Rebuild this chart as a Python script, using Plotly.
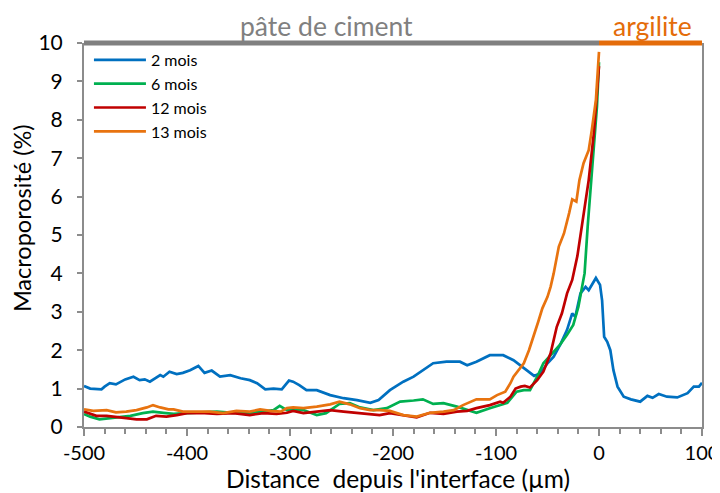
import plotly.graph_objects as go

# 2 mois
x_2m = [-500, -494, -483, -480, -475, -469, -460, -452, -446, -441, -436, -426, -423, -417, -410, -404,
        -397, -389, -383, -376, -368, -358, -348, -339, -332, -324, -316, -308, -301, -297, -291, -284,
        -274, -261, -248, -235, -222, -214, -203, -190, -180, -171, -161, -148, -135, -128, -119, -106,
        -96, -93, -83, -73, -63, -57, -50, -44, -37, -31, -26, -23, -18, -13, -10, -3, 1, 3, 5, 8, 11,
        14, 18, 24, 31, 40, 47, 52, 58, 66, 76, 86, 92, 97, 100]
y_2m = [1.07, 1.0, 0.98, 1.05, 1.14, 1.11, 1.24, 1.31, 1.22, 1.24, 1.18, 1.35, 1.31, 1.44, 1.38, 1.41,
        1.48, 1.59, 1.41, 1.47, 1.31, 1.35, 1.27, 1.22, 1.14, 0.98, 1.0, 0.98, 1.21, 1.18, 1.09, 0.96,
        0.96, 0.83, 0.75, 0.70, 0.63, 0.70, 0.96, 1.18, 1.31, 1.48, 1.66, 1.70, 1.70, 1.61, 1.70, 1.87,
        1.87, 1.87, 1.74, 1.53, 1.33, 1.40, 1.66, 1.83, 2.18, 2.53, 2.96, 2.87, 3.48, 3.65, 3.56, 3.88,
        3.70, 3.30, 2.35, 2.22, 2.0, 1.48, 1.05, 0.79, 0.72, 0.66, 0.81, 0.76, 0.86, 0.79, 0.77, 0.88,
        1.05, 1.05, 1.15]

# 6 mois
x_6m = [-500, -494, -485, -475, -465, -455, -443, -433, -423, -413, -400, -387, -371, -355, -339, -326,
        -316, -310, -303, -297, -287, -274, -265, -252, -242, -232, -219, -206, -193, -180, -171, -161,
        -151, -138, -128, -119, -106, -96, -89, -80, -73, -67, -60, -54, -47, -38, -31, -25, -20, -16,
        -14, -11, -7, -2, 0]
y_6m = [0.34, 0.27, 0.20, 0.23, 0.27, 0.29, 0.36, 0.40, 0.37, 0.34, 0.36, 0.37, 0.40, 0.37, 0.36, 0.40,
        0.44, 0.55, 0.44, 0.46, 0.44, 0.31, 0.36, 0.60, 0.62, 0.51, 0.44, 0.49, 0.66, 0.69, 0.72, 0.60,
        0.62, 0.53, 0.44, 0.37, 0.49, 0.57, 0.63, 0.92, 0.96, 0.96, 1.31, 1.66, 1.87, 2.14, 2.40, 2.66,
        3.13, 3.65, 4.0, 5.22, 6.6, 8.34, 9.5]

# 12 mois
x_12m = [-500, -494, -488, -478, -469, -459, -449, -439, -430, -420, -410, -400, -387, -371, -355, -339,
         -326, -313, -303, -297, -287, -274, -261, -248, -235, -222, -213, -203, -190, -177, -164, -151,
         -138, -128, -119, -106, -96, -93, -86, -81, -76, -72, -67, -60, -54, -47, -41, -36, -31, -26,
         -21, -15, -10, -5, 0]
y_12m = [0.40, 0.34, 0.29, 0.29, 0.27, 0.23, 0.20, 0.20, 0.29, 0.27, 0.31, 0.36, 0.37, 0.34, 0.36, 0.31,
         0.36, 0.34, 0.37, 0.42, 0.36, 0.40, 0.44, 0.40, 0.37, 0.34, 0.31, 0.36, 0.31, 0.25, 0.37, 0.34,
         0.40, 0.42, 0.49, 0.57, 0.66, 0.63, 0.79, 1.0, 1.05, 1.07, 1.03, 1.22, 1.44, 1.92, 2.61, 2.96,
         3.48, 3.83, 4.45, 5.57, 6.43, 7.65, 9.4]

# 13 mois
x_13m = [-500, -491, -478, -469, -459, -449, -439, -433, -426, -418, -413, -404, -391, -378, -365, -352,
         -339, -329, -319, -309, -303, -297, -287, -274, -261, -252, -242, -232, -222, -213, -203, -190,
         -177, -164, -151, -141, -132, -119, -106, -99, -91, -86, -83, -78, -73, -68, -64, -59, -55, -50,
         -47, -44, -39, -34, -29, -26, -22, -19, -15, -10, -7, -3, 0]
y_13m = [0.46, 0.42, 0.44, 0.38, 0.40, 0.44, 0.51, 0.57, 0.51, 0.46, 0.46, 0.40, 0.40, 0.40, 0.36, 0.42,
         0.40, 0.46, 0.42, 0.40, 0.49, 0.51, 0.49, 0.53, 0.59, 0.66, 0.59, 0.49, 0.44, 0.44, 0.42, 0.31,
         0.27, 0.37, 0.40, 0.44, 0.57, 0.72, 0.72, 0.83, 0.92, 1.14, 1.31, 1.48, 1.66, 2.0, 2.31, 2.74,
         3.09, 3.39, 3.65, 4.0, 4.70, 5.04, 5.57, 5.93, 5.87, 6.43, 6.87, 7.21, 7.73, 8.52, 9.77]

x_ticks = [-500, -400, -300, -200, -100, 0, 100]
x_ticklabels = ["-500", "-400", "-300", "-200", "-100", "0", "100"]

series = [
    ("2 mois", x_2m, y_2m, "#0070C0"),
    ("6 mois", x_6m, y_6m, "#00B050"),
    ("12 mois", x_12m, y_12m, "#C00000"),
    ("13 mois", x_13m, y_13m, "#E8730F"),
]

zones = [("pâte de ciment", -500, 0, "#808080", -265), ("argilite", 0, 100, "#E46C0A", 52)]

font = "Lato, 'Open Sans', sans-serif"
axis_grey = "#8C8C8C"

fig = go.Figure()
for name, xs, ys, col in series:
    fig.add_trace(go.Scatter(x=xs, y=ys, name=name, mode="lines",
                             line=dict(color=col, width=2.7)))

# coloured bar on top of the plot + zone labels
for label, x0, x1, col, xc in zones:
    fig.add_shape(type="line", xref="x", yref="paper", x0=x0, x1=x1, y0=1, y1=1,
                  line=dict(color=col, width=5))
    fig.add_annotation(text=label, xref="x", yref="paper", x=xc, y=1, yanchor="middle",
                       yshift=17, showarrow=False, font=dict(size=26.5, color=col, family=font))

# axis titles
fig.add_annotation(text="Distance  depuis l'interface (µm)", xref="paper", yref="paper",
                   x=0.508, y=0, yanchor="middle", yshift=-51, showarrow=False,
                   font=dict(size=24.5, color="black", family=font))
fig.add_annotation(text="Macroporosité (%)", xref="paper", yref="paper", textangle=-90,
                   x=0, y=0.544, xanchor="center", xshift=-62, showarrow=False,
                   font=dict(size=23.5, color="black", family=font))

fig.update_xaxes(range=[-500, 100], tickvals=x_ticks, ticktext=x_ticklabels,
                 showgrid=False, zeroline=False, automargin=False,
                 showline=True, linecolor=axis_grey, linewidth=2,
                 ticks="outside", ticklen=7, tickcolor=axis_grey, tickwidth=2,
                 minor=dict(dtick=20, tick0=-500, ticks="outside", ticklen=5,
                            tickcolor=axis_grey, tickwidth=1.5),
                 tickfont=dict(size=20, color="black"))
fig.update_yaxes(range=[0, 10], dtick=1, showgrid=False, zeroline=False, automargin=False,
                 showline=True, linecolor=axis_grey, linewidth=2, mirror=True,
                 ticks="outside", ticklen=5, tickcolor=axis_grey, tickwidth=1.5,
                 ticklabelstandoff=10,
                 tickfont=dict(size=21, color="black"))
# the page body adds an 8px offset, so the margins are shifted to compensate
fig.update_layout(width=720, height=493, template="plotly_white",
                  font=dict(family=font, color="black"),
                  plot_bgcolor="white", paper_bgcolor="white",
                  margin=dict(l=76, r=26, t=35, b=74),
                  legend=dict(x=0.008, y=1.0, xanchor="left", yanchor="top", itemwidth=52,
                              bgcolor="rgba(0,0,0,0)", font=dict(size=16), tracegroupgap=0),
                  showlegend=True)

fig.write_html("out.html")
